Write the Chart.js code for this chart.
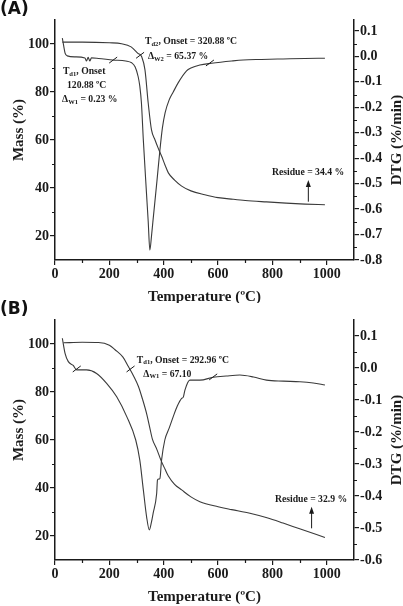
<!DOCTYPE html>
<html>
<head>
<meta charset="utf-8">
<script src="https://cdn.jsdelivr.net/npm/chart.js@4.4.1/dist/chart.umd.min.js"></script>
<style>
  html, body { margin: 0; padding: 0; background: #fff; }
  body { width: 403px; height: 606px; position: relative; overflow: hidden; }
  canvas { position: absolute; left: 0; }
  #chartA { top: 0; }
  #chartB { top: 300px; }
  .tag { position: absolute; left: 0; z-index: 2; font: bold 17px 'DejaVu Sans', sans-serif; line-height: 17px; color: #111; }
</style>
</head>
<body>
<canvas id="chartA" width="403" height="303"></canvas>
<canvas id="chartB" width="403" height="306"></canvas>
<div class="tag" style="top:0">(A)</div>
<div class="tag" style="top:300px">(B)</div>
<script>
// --- tick labels ---
const xTicks = [0, 200, 400, 600, 800, 1000];
const massTicks = [20, 40, 60, 80, 100];
const dtgTicksA = [-0.8, -0.7, -0.6, -0.5, -0.4, -0.3, -0.2, -0.1, 0, 0.1];
const dtgTicksB = [-0.6, -0.5, -0.4, -0.3, -0.2, -0.1, 0, 0.1];

// --- panel A: mass (TG) and DTG ---
const tgTempA = [27, 100, 200, 245, 280, 305, 319, 331, 343, 355, 368, 380, 392, 405, 417, 440, 466, 500, 551, 600, 655, 700, 778, 850, 920, 993];
const tgMassA = [100.8, 100.8, 100.5, 100.1, 98.8, 96.1, 94.7, 89.2, 75.3, 64.2, 60, 56.5, 53.3, 49.5, 46.3, 43.3, 40.8, 38.8, 37.2, 36, 35.3, 34.8, 34.2, 33.7, 33.3, 33];
const dtgTempA = [27, 32, 37, 45, 74, 110, 116, 122, 128, 134, 160, 213, 260, 282, 295, 306, 312, 318, 325, 337, 343, 349, 355, 360, 375, 386, 395, 405, 420, 435, 453, 484, 500, 533, 576, 650, 692, 760, 839, 920, 993];
const dtgValA = [0.072, 0.041, 0.013, 0.002, -0.002, -0.006, -0.018, -0.004, -0.018, -0.006, -0.008, -0.014, -0.018, -0.025, -0.042, -0.080, -0.117, -0.183, -0.329, -0.545, -0.651, -0.761, -0.706, -0.651, -0.490, -0.368, -0.282, -0.222, -0.171, -0.140, -0.104, -0.057, -0.046, -0.034, -0.027, -0.018, -0.014, -0.012, -0.010, -0.008, -0.007];

// --- panel B: mass (TG) and DTG ---
const tgTempB = [31, 100, 160, 200, 221, 250, 270, 290, 307, 322, 337, 348, 358, 375, 390, 405, 417, 440, 466, 500, 533, 600, 650, 717, 780, 839, 900, 993];
const tgMassB = [100.5, 100.7, 100.6, 99.5, 97.6, 94.5, 90.6, 86.5, 82.3, 77, 71, 65.5, 60.5, 56, 51.5, 47.8, 45, 41.5, 39.2, 36.3, 34.3, 32.2, 31, 29.5, 27.6, 25.4, 23, 19.4];
const dtgTempB = [27, 37, 49, 67, 80, 116, 153, 190, 227, 264, 297, 312, 325, 337, 347, 355, 361, 374, 377, 382, 386, 392, 404, 420, 435, 450, 466, 472, 478, 496, 533, 582, 630, 680, 730, 778, 840, 901, 950, 993];
const dtgValB = [0.093, 0.046, 0.020, 0.008, -0.006, -0.006, -0.017, -0.048, -0.090, -0.152, -0.225, -0.288, -0.381, -0.465, -0.506, -0.481, -0.454, -0.392, -0.350, -0.347, -0.345, -0.288, -0.225, -0.188, -0.152, -0.119, -0.095, -0.091, -0.069, -0.038, -0.038, -0.029, -0.025, -0.022, -0.028, -0.038, -0.041, -0.043, -0.047, -0.053];

const SERIF = "'Liberation Serif', 'Times New Roman', serif";
const INK = '#1a1a1a';

function pairs(xs, ys) {
  return xs.map((t, i) => ({ x: t, y: ys[i] }));
}

// text with subscripts: parts = [[text, isSub], ...]
function drawRich(ctx, x, y, parts, size) {
  let cx = x;
  parts.forEach(([txt, sub]) => {
    const fs = sub ? size * 0.68 : size;
    ctx.font = `bold ${fs}px ${SERIF}`;
    ctx.fillText(txt, cx, sub ? y + size * 0.28 : y);
    cx += ctx.measureText(txt).width;
  });
}

const extrasPlugin = {
  id: 'panelExtras',
  afterDraw(chart, args, opts) {
    const { ctx, chartArea: ca, scales } = chart;
    const sx = scales.x, sl = scales.yMass, sr = scales.yDtg;
    ctx.save();
    ctx.strokeStyle = INK;
    ctx.fillStyle = INK;
    ctx.lineWidth = 1.2;

    // minor ticks
    ctx.beginPath();
    [100, 300, 500, 700, 900].forEach(v => {
      const px = Math.round(sx.getPixelForValue(v)) + 0.5;
      ctx.moveTo(px, ca.bottom); ctx.lineTo(px, ca.bottom + 3);
    });
    [30, 50, 70, 90].forEach(v => {
      const py = Math.round(sl.getPixelForValue(v)) + 0.5;
      ctx.moveTo(ca.left, py); ctx.lineTo(ca.left - 3, py);
    });
    opts.dtgTicks.slice(0, -1).forEach((v, i) => {
      const py = Math.round(sr.getPixelForValue((v + opts.dtgTicks[i + 1]) / 2)) + 0.5;
      ctx.moveTo(ca.right, py); ctx.lineTo(ca.right + 3, py);
    });
    ctx.stroke();

    // axis titles
    ctx.textAlign = 'center';
    ctx.textBaseline = 'middle';
    ctx.font = `bold 15px ${SERIF}`;
    ctx.fillText('Temperature (ºC)', (ca.left + ca.right) / 2, ca.bottom + 37);
    ctx.save();
    ctx.translate(19, ca.top + 110);
    ctx.rotate(-Math.PI / 2);
    ctx.fillText('Mass (%)', 0, 0);
    ctx.restore();
    ctx.save();
    ctx.translate(397, ca.top + 120);
    ctx.rotate(-Math.PI / 2);
    ctx.fillText('DTG (%/min)', 0, 0);
    ctx.restore();

    // annotations
    ctx.textAlign = 'left';
    opts.notes.forEach(n => {
      drawRich(ctx, sx.getPixelForValue(n.t), sl.getPixelForValue(n.m), n.parts, 9.7);
    });
    ctx.lineWidth = 1;
    ctx.beginPath();
    opts.slashes.forEach(([t, m]) => {
      const px = sx.getPixelForValue(t), py = sl.getPixelForValue(m);
      ctx.moveTo(px - 4, py + 3); ctx.lineTo(px + 4, py - 3);
    });
    ctx.stroke();

    const a = opts.arrow;
    const ax = sx.getPixelForValue(a.t), y0 = sl.getPixelForValue(a.from), y1 = sl.getPixelForValue(a.to);
    ctx.beginPath();
    ctx.moveTo(ax, y0); ctx.lineTo(ax, y1 + 5);
    ctx.stroke();
    ctx.beginPath();
    ctx.moveTo(ax, y1); ctx.lineTo(ax - 2.5, y1 + 7); ctx.lineTo(ax + 2.5, y1 + 7);
    ctx.closePath();
    ctx.fill();
    ctx.restore();
  }
};

function buildPanel(id, p) {
  const ctx = document.getElementById(id).getContext('2d');
  const H = ctx.canvas.height;
  const tickFont = { family: SERIF, size: 14, weight: 'bold' };
  const grid = { drawOnChartArea: false, tickLength: 5, color: INK, lineWidth: 1.2 };
  const border = { display: true, color: INK, width: 1.5 };
  const line = { borderColor: '#3a3a3a', borderWidth: 1.1, pointRadius: 0, cubicInterpolationMode: 'monotone', fill: false };
  return new Chart(ctx, {
    type: 'line',
    data: {
      datasets: [
        { label: 'Mass', data: pairs(p.tgT, p.tgM), yAxisID: 'yMass', ...line },
        { label: 'DTG', data: pairs(p.dT, p.dV), yAxisID: 'yDtg', ...line }
      ]
    },
    options: {
      responsive: false,
      animation: false,
      layout: { padding: { top: 20, left: 0, right: 0, bottom: 0 } },
      plugins: { legend: { display: false }, tooltip: { enabled: false }, panelExtras: p.extras },
      scales: {
        x: {
          type: 'linear', min: 0, max: 1100,
          afterBuildTicks: s => { s.ticks = xTicks.map(v => ({ value: v })); },
          afterFit: s => { s.height = H - 260; },
          ticks: { font: tickFont, color: INK, padding: 1, maxRotation: 0, callback: v => String(v) },
          grid, border
        },
        yMass: {
          position: 'left', min: 10, max: 110,
          afterBuildTicks: s => { s.ticks = massTicks.map(v => ({ value: v })); },
          afterFit: s => { s.width = 55; },
          ticks: { font: tickFont, color: INK, padding: 1, callback: v => String(v) },
          grid, border
        },
        yDtg: {
          position: 'right', min: p.dMin, max: p.dMax,
          afterBuildTicks: s => { s.ticks = p.extras.dtgTicks.map(v => ({ value: v })); },
          afterFit: s => { s.width = 49; },
          ticks: { font: tickFont, color: INK, padding: 1, callback: v => v.toFixed(1) },
          grid, border
        }
      }
    },
    plugins: [extrasPlugin]
  });
}

buildPanel('chartA', {
  tgT: tgTempA, tgM: tgMassA, dT: dtgTempA, dV: dtgValA,
  dMin: -0.8, dMax: 0.143,
  extras: {
    dtgTicks: dtgTicksA,
    notes: [
      { t: 331, m: 101, parts: [['T'], ['d2', 1], [', Onset = 320.88 ºC']] },
      { t: 342, m: 94.7, parts: [['Δ'], ['W2', 1], [' = 65.37 %']] },
      { t: 29, m: 88.5, parts: [['T'], ['d1', 1], [', Onset']] },
      { t: 44, m: 82.6, parts: [['120.88 ºC']] },
      { t: 26, m: 76.7, parts: [['Δ'], ['W1', 1], [' = 0.23 %']] },
      { t: 798, m: 46.4, parts: [['Residue = 34.4 %']] }
    ],
    slashes: [[214, 93.3], [313, 95.3], [570, 92.1]],
    arrow: { t: 932, from: 34.3, to: 43.3 }
  }
});

buildPanel('chartB', {
  tgT: tgTempB, tgM: tgMassB, dT: dtgTempB, dV: dtgValB,
  dMin: -0.6, dMax: 0.15,
  extras: {
    dtgTicks: dtgTicksB,
    notes: [
      { t: 301, m: 93.3, parts: [['T'], ['d1', 1], [', Onset = 292.96 ºC']] },
      { t: 325, m: 87.5, parts: [['Δ'], ['W1', 1], [' = 67.10']] },
      { t: 809, m: 35.4, parts: [['Residue = 32.9 %']] }
    ],
    slashes: [[80, 89.6], [278, 89.6], [582, 86.3]],
    arrow: { t: 944, from: 23.2, to: 32.2 }
  }
});
</script>
</body>
</html>
